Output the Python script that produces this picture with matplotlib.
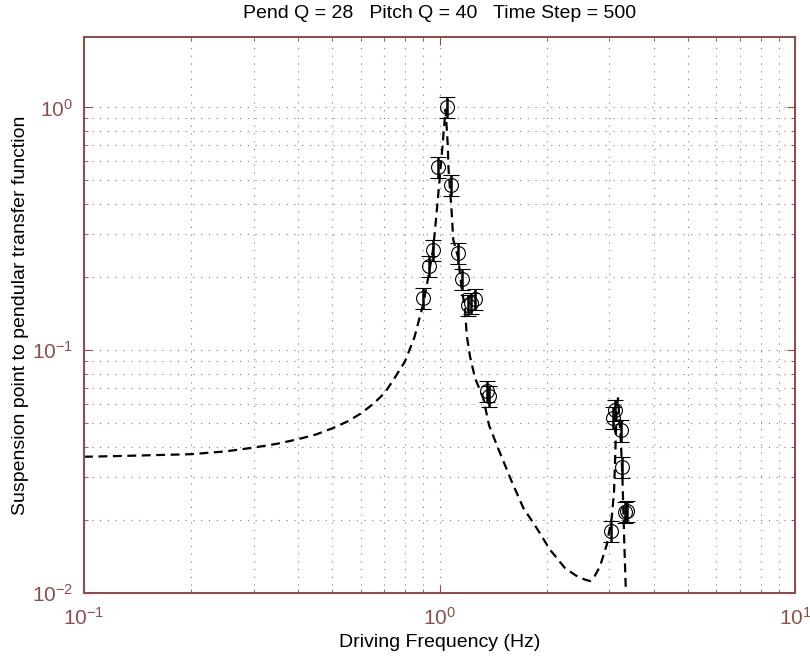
import numpy as np
import matplotlib.pyplot as plt
from matplotlib.ticker import LogLocator, NullFormatter

plt.rcParams['font.family'] = ['Liberation Sans', 'DejaVu Sans']

# measured points with 10% error bars
freq = [0.900, 0.934, 0.960, 0.990, 1.050, 1.080, 1.128, 1.157, 1.203, 1.227,
        1.259, 1.361, 1.378, 3.03, 3.07, 3.12, 3.23, 3.27, 3.32, 3.36]
resp = [0.164, 0.222, 0.258, 0.570, 1.000, 0.480, 0.251, 0.196, 0.153, 0.156,
        0.163, 0.0678, 0.0647, 0.0180, 0.0528, 0.0568, 0.0467, 0.0330, 0.0215, 0.0218]
err_frac = 0.10

# model curve
model_f = [0.10, 0.13, 0.20, 0.25, 0.30, 0.35, 0.40, 0.45, 0.50, 0.55,
           0.60, 0.65, 0.70, 0.74, 0.80, 0.85, 0.90, 0.93, 0.96, 0.98,
           1.00, 1.02, 1.04, 1.055, 1.06, 1.082, 1.093, 1.129, 1.154, 1.179,
           1.193, 1.218, 1.259, 1.328, 1.378, 1.461, 1.596, 1.721, 1.877, 2.046,
           2.254, 2.42, 2.567, 2.651, 2.72, 2.828, 2.954, 3.051, 3.097, 3.127,
           3.151, 3.178, 3.234, 3.268, 3.311, 3.341, 3.35]
model_y = [0.0364, 0.0367, 0.0373, 0.0383, 0.0397, 0.0412, 0.0430, 0.0450, 0.0477, 0.0508,
           0.0548, 0.0600, 0.0665, 0.0750, 0.090, 0.113, 0.155, 0.200, 0.262, 0.36,
           0.50, 0.70, 0.98, 0.70, 0.56, 0.37, 0.286, 0.24, 0.180, 0.149,
           0.115, 0.0945, 0.0767, 0.0634, 0.0491, 0.0395, 0.0288, 0.0224, 0.0185, 0.01507,
           0.01267, 0.0118, 0.01135, 0.0112, 0.0116, 0.01288, 0.0158, 0.0204, 0.0262, 0.0399,
           0.0577, 0.0634, 0.0434, 0.0307, 0.0158, 0.0105, 0.0095]

axis_col = '#8a4f4f'

fig = plt.figure(figsize=(8.1, 6.6), dpi=100)
ax = fig.add_axes([0.1037, 0.1015, 0.8778, 0.8425])
ax.set_xscale('log')
ax.set_yscale('log')

ax.plot(model_f, model_y, color='black', lw=1.6, linestyle='--', dashes=(4, 2.5))

resp = np.array(resp)
ax.errorbar(freq, resp, yerr=resp * err_frac, fmt='o', mfc='none', mec='black',
            ms=10, mew=0.8, ecolor='black', elinewidth=1.8, capsize=5.5, capthick=1.8)

ax.set_xlim(0.1, 10)
ax.set_ylim(0.01, 1.95)

ax.xaxis.set_minor_locator(LogLocator(base=10, subs=np.arange(2, 10), numticks=20))
ax.yaxis.set_minor_locator(LogLocator(base=10, subs=np.arange(2, 10), numticks=20))
ax.xaxis.set_minor_formatter(NullFormatter())
ax.yaxis.set_minor_formatter(NullFormatter())

ax.grid(True, which='both', color=axis_col, linestyle=(0, (1, 6)), lw=0.8, alpha=0.8)
ax.tick_params(which='both', direction='in', top=True, right=True,
               color=axis_col, labelcolor=axis_col, labelsize=15)
ax.tick_params(which='major', length=6)
ax.tick_params(which='minor', length=3)
ax.tick_params(axis='x', which='major', pad=10)
ax.tick_params(axis='y', which='major', pad=8)
for s in ax.spines.values():
    s.set_color(axis_col)
    s.set_linewidth(1.5)

ax.set_xlabel('Driving Frequency (Hz)', fontsize=14, labelpad=4)
ax.set_ylabel('Suspension point to pendular transfer function', fontsize=14, labelpad=2)
ax.set_title('Pend Q = 28   Pitch Q = 40   Time Step = 500', fontsize=14, pad=14)

fig.savefig('out.png', dpi=100)
